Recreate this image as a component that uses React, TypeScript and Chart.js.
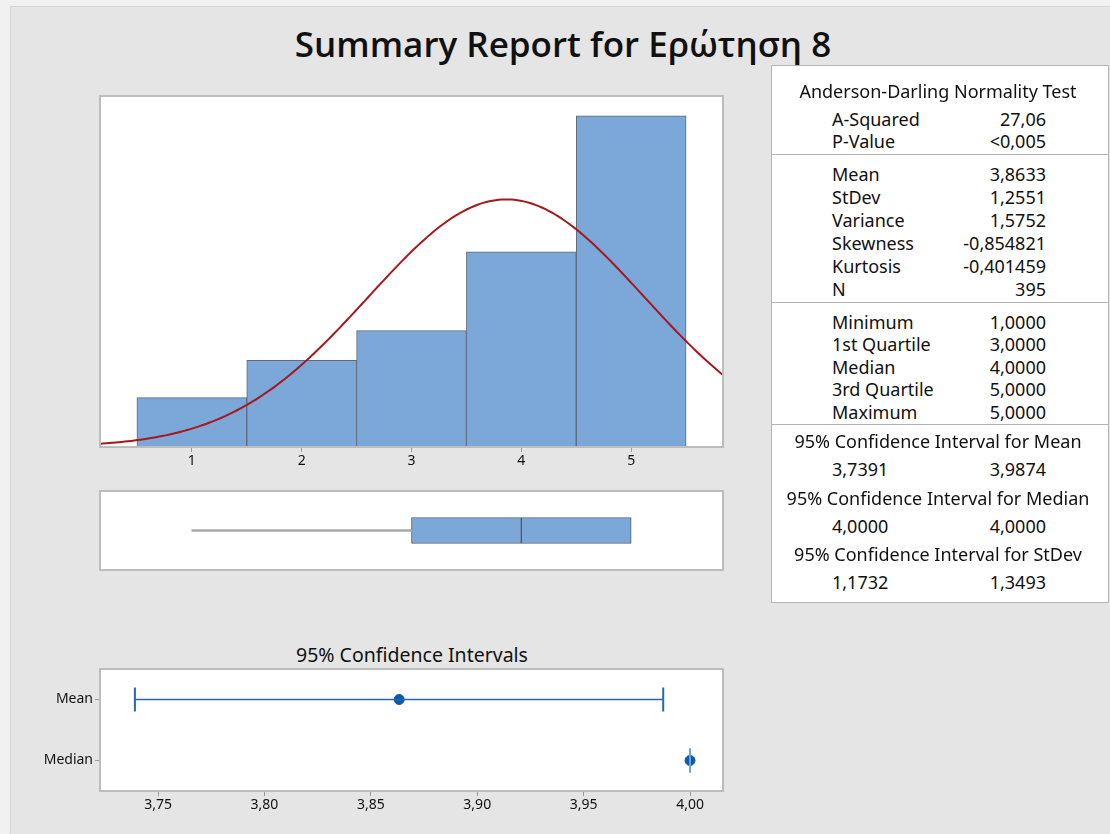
import React, { useEffect, useRef } from 'react';
import { Chart, registerables } from 'chart.js';
Chart.register(...registerables);

const FONT = '"Noto Sans", "Open Sans", sans-serif';
const TITLE_FONT = '"Open Sans", "Noto Sans", sans-serif';

// ---------- Data ----------
const TITLE = 'Summary Report for Ερώτηση 8';

// Histogram bins (response values) and counts
const BIN_CENTERS = [1, 2, 3, 4, 5];
const BIN_COUNTS = [25, 44, 59, 99, 168];
const HIST_X_MIN = 0.164;
const HIST_X_MAX = 5.836;
const HIST_Y_MAX = 178;

// Summary statistics
const MEAN = 3.8633;
const STDEV = 1.2551;
const N = 395;
const MINIMUM = 1;
const Q1 = 3;
const MEDIAN = 4;
const Q3 = 5;

// Confidence intervals
const CI_MEAN = [3.7391, 3.9874];
const CI_MEDIAN = [4.0, 4.0];
const CI_CATEGORIES = ['Mean', 'Median'];
const CI_X_MIN = 3.7227;
const CI_X_MAX = 4.0155;
const CI_TITLE = '95% Confidence Intervals';

// Table text
const AD_HEADER = 'Anderson-Darling Normality Test';
const AD_LABELS = ['A-Squared', 'P-Value'];
const AD_VALUES = ['27,06', '<0,005'];
const MOMENT_LABELS = ['Mean', 'StDev', 'Variance', 'Skewness', 'Kurtosis', 'N'];
const MOMENT_VALUES = ['3,8633', '1,2551', '1,5752', '-0,854821', '-0,401459', '395'];
const QUANT_LABELS = ['Minimum', '1st Quartile', 'Median', '3rd Quartile', 'Maximum'];
const QUANT_VALUES = ['1,0000', '3,0000', '4,0000', '5,0000', '5,0000'];
const CI_HEADERS = [
  '95% Confidence Interval for Mean',
  '95% Confidence Interval for Median',
  '95% Confidence Interval for StDev',
];
const CI_LOWS = ['3,7391', '4,0000', '1,1732'];
const CI_HIGHS = ['3,9874', '4,0000', '1,3493'];

// ---------- Styles ----------
const BAR_BLUE = '#7ca7d9';
const BAR_EDGE = '#5d6a7c';
const CURVE_RED = '#a3191d';
const PANEL_BORDER = '#bdbdbd';
const TICK_COLOR = '#9a9a9a';
const TEXT_COLOR = '#111111';

// normal fit curve from the reported mean / stdev
function fitCurve() {
  const pts: { x: number; y: number }[] = [];
  const steps = 200;
  for (let i = 0; i <= steps; i++) {
    const x = HIST_X_MIN + ((HIST_X_MAX - HIST_X_MIN) * i) / steps;
    const z = (x - MEAN) / STDEV;
    const y = (N * 1) / (STDEV * Math.sqrt(2 * Math.PI)) * Math.exp(-0.5 * z * z);
    pts.push({ x, y });
  }
  return pts;
}

const panelPlugin = {
  id: 'panel',
  beforeDraw(chart: any) {
    const { ctx, chartArea: a } = chart;
    ctx.save();
    ctx.fillStyle = '#ffffff';
    ctx.fillRect(a.left, a.top, a.right - a.left, a.bottom - a.top);
    ctx.restore();
  },
  afterDraw(chart: any) {
    const { ctx, chartArea: a } = chart;
    ctx.save();
    ctx.strokeStyle = PANEL_BORDER;
    ctx.lineWidth = 2;
    ctx.strokeRect(a.left, a.top, a.right - a.left, a.bottom - a.top);
    ctx.restore();
  },
};

function fixXFit(s: any) {
  s.height = 30;
  s.paddingLeft = 0;
  s.paddingRight = 0;
}

function histConfig(): any {
  return {
    type: 'bar',
    data: {
      datasets: [
        {
          type: 'line',
          data: fitCurve(),
          borderColor: CURVE_RED,
          borderWidth: 2,
          pointRadius: 0,
          order: 0,
        },
        {
          type: 'bar',
          data: BIN_CENTERS.map((x, i) => ({ x, y: BIN_COUNTS[i] })),
          backgroundColor: BAR_BLUE,
          borderColor: BAR_EDGE,
          borderWidth: 1,
          barPercentage: 1,
          categoryPercentage: 1,
          order: 1,
        },
      ],
    },
    options: {
      animation: false,
      responsive: false,
      events: [],
      layout: { autoPadding: false, padding: { left: 10, right: 10, top: 10, bottom: 0 } },
      plugins: { legend: { display: false }, tooltip: { enabled: false } },
      scales: {
        x: {
          type: 'linear',
          min: HIST_X_MIN,
          max: HIST_X_MAX,
          offset: false,
          grid: {
            offset: false,
            drawOnChartArea: false,
            drawTicks: true,
            tickLength: 5,
            color: TICK_COLOR,
          },
          border: { display: false },
          ticks: {
            stepSize: 1,
            includeBounds: false,
            font: { family: FONT, size: 14 },
            color: TEXT_COLOR,
            padding: 1,
            maxRotation: 0,
          },
          afterFit: fixXFit,
        },
        y: { display: false, min: 0, max: HIST_Y_MAX },
      },
    },
    plugins: [panelPlugin],
  };
}

function boxConfig(): any {
  return {
    type: 'bar',
    data: {
      labels: ['box'],
      datasets: [
        {
          data: [[MINIMUM, Q1]],
          backgroundColor: '#a8a8a8',
          borderWidth: 0,
          barThickness: 2,
          grouped: false,
        },
        {
          data: [[Q1, MEDIAN]],
          backgroundColor: BAR_BLUE,
          borderColor: '#555b66',
          borderWidth: 1,
          borderSkipped: false,
          barThickness: 26,
          grouped: false,
        },
        {
          data: [[MEDIAN, Q3]],
          backgroundColor: BAR_BLUE,
          borderColor: '#555b66',
          borderWidth: 1,
          borderSkipped: false,
          barThickness: 26,
          grouped: false,
        },
      ],
    },
    options: {
      animation: false,
      responsive: false,
      events: [],
      indexAxis: 'y',
      layout: { autoPadding: false, padding: 10 },
      plugins: { legend: { display: false }, tooltip: { enabled: false } },
      scales: {
        x: { type: 'linear', min: HIST_X_MIN, max: HIST_X_MAX, display: false },
        y: { display: false },
      },
    },
    plugins: [panelPlugin],
  };
}

function ciConfig(): any {
  const capStyle = {
    showLine: true,
    borderWidth: 1.5,
    pointStyle: 'line',
    pointRotation: 90,
    pointRadius: 12,
    pointBorderWidth: 2,
  };
  return {
    type: 'scatter',
    data: {
      datasets: [
        {
          ...capStyle,
          data: [
            { x: CI_MEAN[0], y: CI_CATEGORIES[0] },
            { x: CI_MEAN[1], y: CI_CATEGORIES[0] },
          ],
          borderColor: '#2a66ad',
          pointBorderColor: '#2a66ad',
        },
        {
          ...capStyle,
          data: [
            { x: CI_MEDIAN[0], y: CI_CATEGORIES[1] },
            { x: CI_MEDIAN[1], y: CI_CATEGORIES[1] },
          ],
          borderColor: '#6f9fd8',
          pointBorderColor: '#6f9fd8',
        },
        {
          data: [
            { x: MEAN, y: CI_CATEGORIES[0] },
            { x: MEDIAN, y: CI_CATEGORIES[1] },
          ],
          pointStyle: 'circle',
          pointRadius: 5,
          pointBorderWidth: 1,
          pointBackgroundColor: '#0b59ab',
          pointBorderColor: '#0b59ab',
        },
      ],
    },
    options: {
      animation: false,
      responsive: false,
      events: [],
      layout: { autoPadding: false, padding: { left: 0, right: 10, top: 10, bottom: 0 } },
      plugins: { legend: { display: false }, tooltip: { enabled: false } },
      scales: {
        x: {
          type: 'linear',
          min: CI_X_MIN,
          max: CI_X_MAX,
          grid: { drawOnChartArea: false, drawTicks: true, tickLength: 5, color: TICK_COLOR },
          border: { display: false },
          ticks: {
            stepSize: 0.05,
            includeBounds: false,
            font: { family: FONT, size: 14 },
            color: TEXT_COLOR,
            padding: 1,
            maxRotation: 0,
            callback: (v: number) => v.toFixed(2).replace('.', ','),
          },
          afterFit: fixXFit,
        },
        y: {
          type: 'category',
          labels: CI_CATEGORIES,
          offset: true,
          grid: { drawOnChartArea: false, drawTicks: true, tickLength: 5, color: TICK_COLOR },
          border: { display: false },
          ticks: { font: { family: FONT, size: 14 }, color: TEXT_COLOR, padding: 2 },
          afterFit(s: any) {
            s.width = 90;
            s.paddingTop = 0;
            s.paddingBottom = 0;
          },
        },
      },
    },
    plugins: [panelPlugin],
  };
}

function ChartCanvas(props: { config: () => any; left: number; top: number; width: number; height: number }) {
  const ref = useRef<HTMLCanvasElement>(null);
  useEffect(() => {
    const c = new Chart(ref.current as HTMLCanvasElement, props.config());
    return () => c.destroy();
  }, []);
  return (
    <canvas
      ref={ref}
      width={props.width}
      height={props.height}
      style={{ position: 'absolute', left: props.left, top: props.top, width: props.width, height: props.height }}
    />
  );
}

function Txt(props: {
  x: number;
  y: number;
  size: number;
  align?: 'left' | 'right' | 'center';
  weight?: number;
  family?: string;
  children: React.ReactNode;
}) {
  const { x, y, size, align = 'left', weight = 400, family = FONT } = props;
  const style: React.CSSProperties = {
    position: 'absolute',
    top: y - 0.53 * size,
    fontFamily: family,
    fontSize: size,
    fontWeight: weight,
    lineHeight: `${size}px`,
    color: TEXT_COLOR,
    whiteSpace: 'nowrap',
  };
  if (align === 'left') style.left = x;
  else if (align === 'right') style.right = 1110 - x;
  else {
    style.left = x - 400;
    style.width = 800;
    style.textAlign = 'center';
  }
  return <div style={style}>{props.children}</div>;
}

const LABEL_X = 832;
const VALUE_X = 1046;
const TABLE_FS = 18;

export default function App() {
  const adY = [120, 142];
  const momY = [175, 198, 221, 244, 267, 290];
  const quY = [323, 345, 368, 390, 413];
  const ciHeadY = [442, 499, 555];
  const ciValY = [470, 527, 583];
  return (
    <div
      style={{
        position: 'absolute',
        left: 0,
        top: 0,
        width: 1110,
        height: 834,
        background: '#f1f1f1',
        overflow: 'hidden',
      }}
    >
      <div
        style={{
          position: 'absolute',
          left: 10,
          top: 6,
          right: 0,
          bottom: 0,
          background: '#e5e5e5',
          borderLeft: '1px solid #d6d6d6',
          borderTop: '1px solid #d6d6d6',
        }}
      />
      <Txt x={563} y={45} size={35} align="center" weight={600} family={TITLE_FONT}>
        {TITLE}
      </Txt>

      <ChartCanvas config={histConfig} left={90} top={86} width={643} height={391} />
      <ChartCanvas config={boxConfig} left={90} top={481} width={643} height={99} />

      <Txt x={412} y={655} size={19.5} align="center">
        {CI_TITLE}
      </Txt>
      <ChartCanvas config={ciConfig} left={10} top={659} width={723} height={162} />

      {/* Statistics table */}
      <div
        style={{
          position: 'absolute',
          left: 771,
          top: 65,
          width: 336,
          height: 536,
          background: '#ffffff',
          border: '1px solid #b4b4b4',
        }}
      />
      {[154, 302, 424].map((y) => (
        <div
          key={y}
          style={{ position: 'absolute', left: 772, top: y, width: 336, height: 1, background: '#b4b4b4' }}
        />
      ))}
      <Txt x={938} y={92} size={TABLE_FS} align="center">
        {AD_HEADER}
      </Txt>
      {AD_LABELS.map((l, i) => (
        <React.Fragment key={l}>
          <Txt x={LABEL_X} y={adY[i]} size={TABLE_FS}>
            {l}
          </Txt>
          <Txt x={VALUE_X} y={adY[i]} size={TABLE_FS} align="right">
            {AD_VALUES[i]}
          </Txt>
        </React.Fragment>
      ))}
      {MOMENT_LABELS.map((l, i) => (
        <React.Fragment key={l}>
          <Txt x={LABEL_X} y={momY[i]} size={TABLE_FS}>
            {l}
          </Txt>
          <Txt x={VALUE_X} y={momY[i]} size={TABLE_FS} align="right">
            {MOMENT_VALUES[i]}
          </Txt>
        </React.Fragment>
      ))}
      {QUANT_LABELS.map((l, i) => (
        <React.Fragment key={l}>
          <Txt x={LABEL_X} y={quY[i]} size={TABLE_FS}>
            {l}
          </Txt>
          <Txt x={VALUE_X} y={quY[i]} size={TABLE_FS} align="right">
            {QUANT_VALUES[i]}
          </Txt>
        </React.Fragment>
      ))}
      {CI_HEADERS.map((h, i) => (
        <React.Fragment key={h}>
          <Txt x={938} y={ciHeadY[i]} size={TABLE_FS} align="center">
            {h}
          </Txt>
          <Txt x={LABEL_X} y={ciValY[i]} size={TABLE_FS}>
            {CI_LOWS[i]}
          </Txt>
          <Txt x={VALUE_X} y={ciValY[i]} size={TABLE_FS} align="right">
            {CI_HIGHS[i]}
          </Txt>
        </React.Fragment>
      ))}
    </div>
  );
}
